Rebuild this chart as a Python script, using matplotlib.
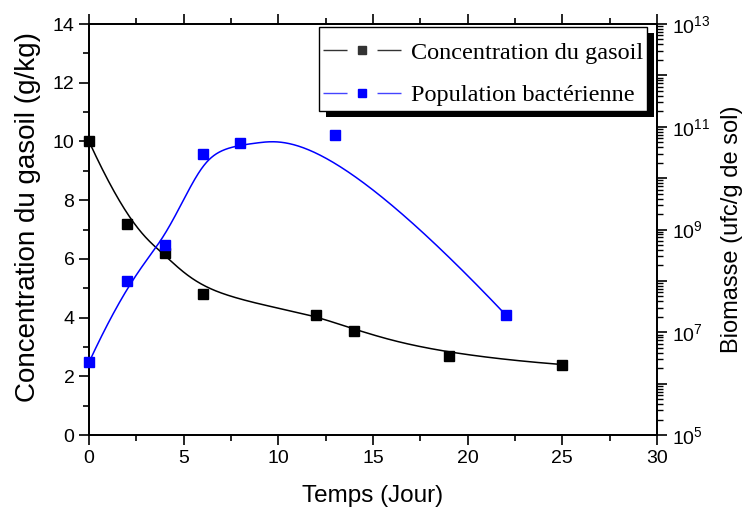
import numpy as np
import matplotlib
matplotlib.use('Agg')
import matplotlib.pyplot as plt
from matplotlib.lines import Line2D
from matplotlib.patches import Rectangle
from matplotlib.ticker import MultipleLocator, LogLocator, FuncFormatter, NullFormatter

plt.rcParams['font.family'] = ['Liberation Sans', 'DejaVu Sans']
plt.rcParams['mathtext.fontset'] = 'custom'
plt.rcParams['mathtext.rm'] = 'Liberation Sans'
plt.rcParams['lines.scale_dashes'] = False

# Data
days_gasoil = [0, 2, 4, 6, 12, 14, 19, 25]
conc_gasoil = [10.0, 7.2, 6.2, 4.8, 4.1, 3.55, 2.7, 2.4]
days_bact = [0, 2, 4, 6, 8, 13, 22]
pop_bact = [2.6e6, 1.0e8, 4.9e8, 3.0e10, 4.8e10, 6.9e10, 2.2e7]

x_ticks = [0, 5, 10, 15, 20, 25, 30]
y_ticks = [0, 2, 4, 6, 8, 10, 12, 14]
series_labels = ['Concentration du gasoil', 'Population bactérienne']


def bspline(xs, ys, num=400):
    P = np.column_stack([xs, ys]).astype(float)
    n = len(P)
    k = 3
    inner = np.arange(1, n - k)
    knots = np.concatenate([np.zeros(k + 1), inner, np.full(k + 1, n - k)]).astype(float)
    t = np.linspace(0, n - k, num)
    t[-1] -= 1e-9
    N = np.zeros((num, len(knots) - 1))
    for i in range(len(knots) - 1):
        N[:, i] = ((t >= knots[i]) & (t < knots[i + 1])).astype(float)
    for d in range(1, k + 1):
        Nn = np.zeros((num, len(knots) - 1 - d))
        for i in range(len(knots) - 1 - d):
            term = np.zeros(num)
            den1 = knots[i + d] - knots[i]
            den2 = knots[i + d + 1] - knots[i + 1]
            if den1 > 0:
                term += (t - knots[i]) / den1 * N[:, i]
            if den2 > 0:
                term += (knots[i + d + 1] - t) / den2 * N[:, i + 1]
            Nn[:, i] = term
        N = Nn
    C = N @ P
    return C[:, 0], C[:, 1]


fig = plt.figure(figsize=(7.48, 5.12), dpi=100)
ax = fig.add_axes([89 / 748, 77 / 512, 568 / 748, 411 / 512])
ax2 = ax.twinx()

# Black series
bx, by = bspline(days_gasoil, conc_gasoil)
ax.plot(bx, by, color='black', lw=1.1, zorder=2)
ax.plot(days_gasoil, conc_gasoil, ls='none', marker='s', ms=6.5, color='black', zorder=3, clip_on=False)

# Blue series
lx, ly = bspline(days_bact, np.log10(pop_bact))
ax2.plot(lx, 10 ** ly, color='#0000FF', lw=1.1, zorder=2)
ax2.plot(days_bact, pop_bact, ls='none', marker='s', ms=6.5, color='#0000FF', zorder=3, clip_on=False)

ax.set_xlim(0, 30)
ax.set_ylim(0, 14)
ax.set_xticks(x_ticks)
ax.set_yticks(y_ticks)
ax.xaxis.set_minor_locator(MultipleLocator(2.5))
ax.yaxis.set_minor_locator(MultipleLocator(1))
ax.tick_params(axis='both', which='major', direction='out', length=7, width=1.2, labelsize=14)
ax.tick_params(axis='both', which='minor', direction='out', length=4, width=1.2)
ax.tick_params(axis='x', which='both', top=True)

ax2.set_yscale('log')
ax2.set_ylim(1e5, 1e13)
ax2.yaxis.set_major_locator(LogLocator(base=10, numticks=20))
ax2.yaxis.set_minor_locator(LogLocator(base=10, subs=np.arange(2, 10), numticks=20))
ax2.yaxis.set_minor_formatter(NullFormatter())


def fmt(v, p):
    e = int(round(np.log10(v)))
    return r'$\mathregular{10^{%d}}$' % e if e % 2 == 1 else ''


ax2.yaxis.set_major_formatter(FuncFormatter(fmt))
ax2.tick_params(axis='y', which='major', direction='out', length=7, width=1.2, labelsize=14)
ax2.tick_params(axis='y', which='minor', direction='out', length=4, width=1.0)

for a in (ax, ax2):
    for s in a.spines.values():
        s.set_linewidth(1.3)

ax.set_xlabel('Temps (Jour)', fontsize=17.5, labelpad=13)
ax.set_ylabel('Concentration du gasoil (g/kg)', fontsize=20)
ax.yaxis.set_label_coords(-0.085, 0.530)
ax2.set_ylabel('Biomasse (ufc/g de sol)', fontsize=17, labelpad=8)

# Legend frame + shadow (axes coordinates of the box)
ax2.add_patch(Rectangle((0.417, 0.774), 0.578, 0.204, transform=ax2.transAxes,
                        facecolor='black', edgecolor='none', zorder=9.8, clip_on=False))
ax2.add_patch(Rectangle((0.405, 0.788), 0.577, 0.2047, transform=ax2.transAxes,
                        facecolor='white', edgecolor='black', lw=1.0, zorder=9.9, clip_on=False))

handles = [Line2D([], [], color='#333333', lw=1.0, ls=(0, (17.3, 21.6)), marker='s', ms=5.8),
           Line2D([], [], color='#4444FF', lw=1.0, ls=(0, (17.3, 21.6)), marker='s', ms=5.8,
                  markerfacecolor='#0000FF', markeredgecolor='#0000FF')]
leg = ax2.legend(handles, series_labels, loc='upper right', bbox_to_anchor=(0.9754, 0.957),
                 prop={'family': 'Liberation Serif', 'size': 17.5}, numpoints=1,
                 frameon=False, handlelength=3.2, handletextpad=0.42, borderpad=0.0,
                 labelspacing=0.85, borderaxespad=0)
leg.set_zorder(10)

fig.savefig('out.png', dpi=100)
